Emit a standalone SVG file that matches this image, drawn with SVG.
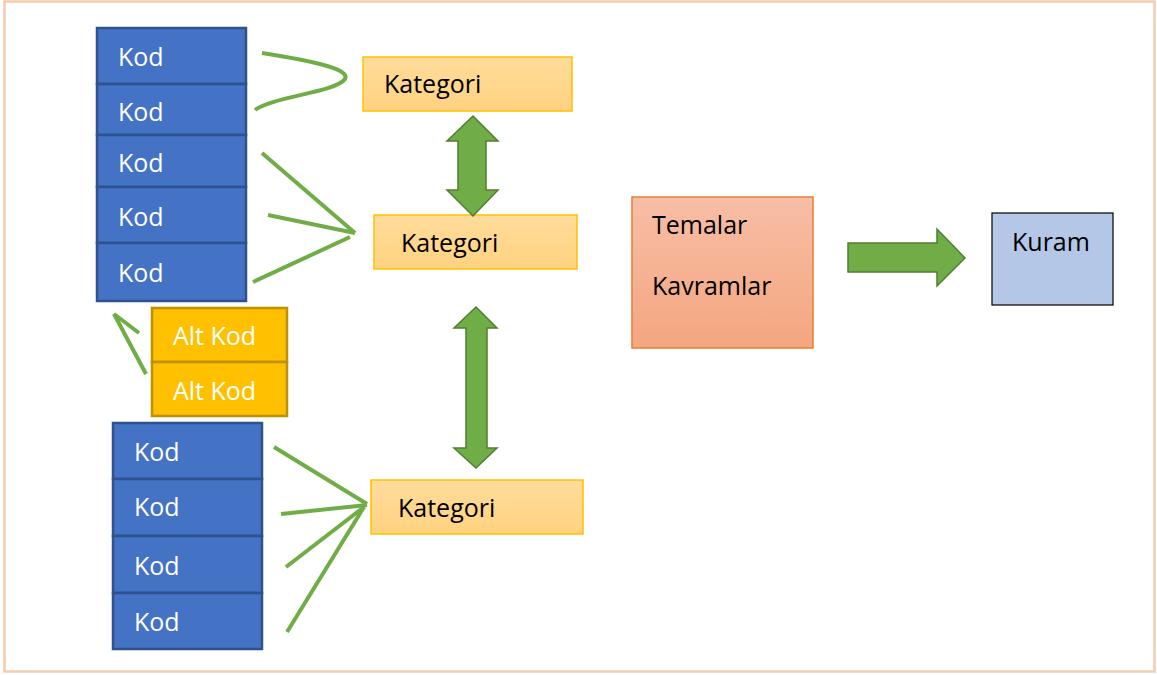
<svg xmlns="http://www.w3.org/2000/svg" width="1157" height="675" viewBox="0 0 1157 675">
<style>
text{font-family:"Open Sans","Noto Sans","Liberation Sans",sans-serif;font-size:25px}
.kod{fill:#4472C4;stroke:#2F528F;stroke-width:2.5}
.wt{fill:#FFFFFF}
.alt{fill:#FFC000;stroke:#BF9000;stroke-width:2.5}
.kat{fill:url(#gKat);stroke:#FFC000;stroke-width:1.5}
.bk{fill:#000000}
.ln{fill:none;stroke:#70AD47;stroke-width:4;stroke-linecap:butt}
.ga{fill:#70AD47;stroke:#507E32;stroke-width:1.5;stroke-linejoin:miter}
</style>
<defs>
<linearGradient id="gKat" x1="0" y1="0" x2="0" y2="1">
<stop offset="0" stop-color="#FFDC9C"/>
<stop offset="1" stop-color="#FFD27F"/>
</linearGradient>
<linearGradient id="gTem" x1="0" y1="0" x2="0" y2="1">
<stop offset="0" stop-color="#F7BEA6"/>
<stop offset="1" stop-color="#F4A67F"/>
</linearGradient>
</defs>
<rect x="0" y="0" width="1157" height="675" fill="#FFFFFF"/>
<rect id="frame" x="4.5" y="1.5" width="1150" height="670" fill="none" stroke="#F8CBAD" stroke-width="2.5"/>

<g id="kod-top">
<rect class="kod" x="97" y="28" width="149" height="56"/>
<rect class="kod" x="97" y="84" width="149" height="51"/>
<rect class="kod" x="97" y="135" width="149" height="52"/>
<rect class="kod" x="97" y="187" width="149" height="56"/>
<rect class="kod" x="97" y="243" width="149" height="58"/>
<text class="wt" x="118" y="66">Kod</text>
<text class="wt" x="118" y="121">Kod</text>
<text class="wt" x="118" y="172">Kod</text>
<text class="wt" x="118" y="226">Kod</text>
<text class="wt" x="118" y="282">Kod</text>
</g>

<g id="altkod">
<rect class="alt" x="152" y="308" width="135" height="54"/>
<rect class="alt" x="152" y="362" width="135" height="54"/>
<text class="wt" x="173" y="345">Alt Kod</text>
<text class="wt" x="173" y="400">Alt Kod</text>
</g>

<g id="kod-bottom">
<rect class="kod" x="113" y="423" width="149" height="56"/>
<rect class="kod" x="113" y="479" width="149" height="57"/>
<rect class="kod" x="113" y="536" width="149" height="57"/>
<rect class="kod" x="113" y="593" width="149" height="56"/>
<text class="wt" x="134" y="461">Kod</text>
<text class="wt" x="134" y="516">Kod</text>
<text class="wt" x="134" y="575">Kod</text>
<text class="wt" x="134" y="631">Kod</text>
</g>

<g id="kategori-1">
<rect class="kat" x="363" y="57" width="209" height="54"/>
<text class="bk" x="384" y="93">Kategori</text>
</g>
<g id="kategori-2">
<rect class="kat" x="374" y="215" width="203" height="54"/>
<text class="bk" x="401" y="252">Kategori</text>
</g>
<g id="kategori-3">
<rect class="kat" x="371" y="480" width="212" height="54"/>
<text class="bk" x="398" y="517">Kategori</text>
</g>

<g id="temalar">
<rect x="632" y="197" width="181" height="151" fill="url(#gTem)" stroke="#ED7D31" stroke-width="1.5"/>
<text class="bk" x="652" y="234">Temalar</text>
<text class="bk" x="652" y="295">Kavramlar</text>
</g>

<g id="kuram">
<rect x="992" y="213" width="121" height="92" fill="#B4C7E7" stroke="#000000" stroke-width="1.2"/>
<text class="bk" x="1012" y="251">Kuram</text>
</g>

<g id="connectors">
<path class="ln" d="M262,53 C320,62 350,70 345,79 C336,92 272,97 255,110"/>
<path class="ln" d="M262,153 L355,233"/>
<path class="ln" d="M268,215 L355,233"/>
<path class="ln" d="M253,282 L350,237"/>
<path class="ln" d="M146,374 L114,314 L139,333"/>
<path class="ln" d="M274,447 L367,504"/>
<path class="ln" d="M281,514 L367,505"/>
<path class="ln" d="M286,567 L364,507"/>
<path class="ln" d="M287,632 L364,507"/>
<path class="ga" d="M473,116 L498,141 L486,141 L486,190 L498,190 L473,216 L447,190 L458,190 L458,141 L447,141 Z"/>
<path class="ga" d="M476,307 L497,328 L487,328 L487,448 L497,448 L476,468 L454,448 L466,448 L466,328 L454,328 Z"/>
<path class="ga" d="M848,243 L937,243 L937,229 L965,258 L937,286 L937,272 L848,272 Z"/>
</g>
</svg>
